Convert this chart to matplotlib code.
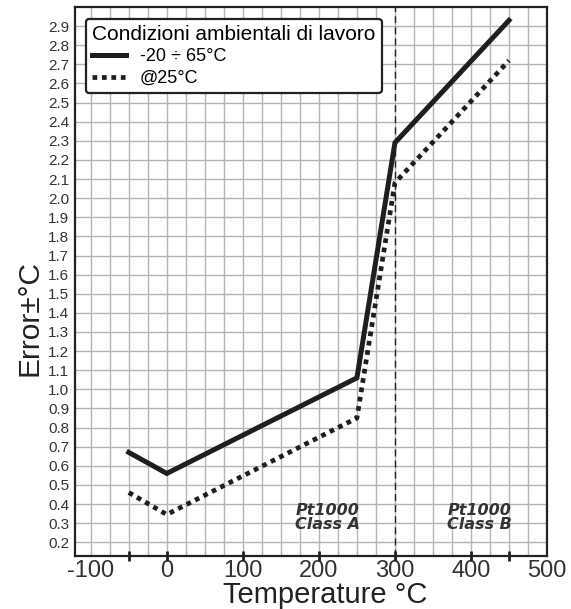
import numpy as np
import matplotlib
matplotlib.use("Agg")
import matplotlib.pyplot as plt
from matplotlib.lines import Line2D

# data
temp = [-50, 0, 250, 300, 450]
err_range = [0.67, 0.56, 1.06, 2.29, 2.93]   # -20 ÷ 65°C
err_25 = [0.46, 0.345, 0.85, 2.08, 2.72]     # @25°C

x_labels = [-100, 0, 100, 200, 300, 400, 500]
x_marks = [-50, 0, 100, 200, 300, 400, 450]
y_labels = np.round(np.arange(0.2, 2.91, 0.1), 1)

plt.rcParams['font.family'] = ['Liberation Sans', 'DejaVu Sans']

fig = plt.figure(figsize=(5.71, 6.09), dpi=100)
ax = fig.add_axes([0.131, 0.087, 0.827, 0.9015])

ax.set_xlim(-121, 500)
ax.set_ylim(0.128, 3.0)

# grid
for gx in np.arange(-100, 500, 25):
    ax.axvline(gx, color='#b4b4b4', lw=1.0, zorder=1)
for gy in np.arange(0.2, 3.0, 0.1):
    ax.axhline(gy, color='#b4b4b4', lw=1.0, zorder=1)

# class boundary
ax.axvline(300, color='#222222', lw=1.0, ls=(0, (5, 3)), zorder=2)

ax.plot(temp, err_range, color='#1e1e1e', lw=3.6, solid_joinstyle='miter', zorder=4)
ax.plot(temp, err_25, color='#1e1e1e', lw=3.4, ls=(0, (1, 1)), zorder=3)

for xt, lab in [(211, 'Pt1000\nClass A'), (411, 'Pt1000\nClass B')]:
    ax.text(xt, 0.33, lab, ha='center', va='center', style='italic',
            weight='bold', fontsize=11.5, color='#333333', linespacing=0.85,
            family=['DejaVu Sans'])

# ticks
ax.xaxis.remove_overlapping_locs = False
ax.set_xticks(x_labels)
ax.set_xticklabels([str(v) for v in x_labels], fontsize=17, color='#333333')
ax.tick_params(axis='x', which='major', length=0, pad=3)
ax.set_xticks(x_marks, minor=True)
ax.tick_params(axis='x', which='minor', direction='inout', length=7, width=2,
               color='#222222')
ax.set_yticks(y_labels)
ax.set_yticklabels([f'{v:.1f}' for v in y_labels], fontsize=11, color='#333333')
ax.tick_params(axis='y', length=0, pad=4)

for s in ax.spines.values():
    s.set_linewidth(1.6)
    s.set_color('#222222')
    s.set_zorder(5)

ax.set_xlabel('Temperature °C', fontsize=21, color='#222222')
ax.xaxis.set_label_coords(0.53, -0.046)
ax.set_ylabel('Error±°C', fontsize=21.5, color='#222222')
ax.yaxis.set_label_coords(-0.066, 0.434)

handles = [Line2D([], [], color='#1e1e1e', lw=3.6),
           Line2D([], [], color='#1e1e1e', lw=3.4, ls=(0, (1, 1)))]
leg = ax.legend(handles, ['-20 ÷ 65°C', '@25°C'], title='Condizioni ambientali di lavoro',
                loc='upper left', bbox_to_anchor=(0.023, 0.979), fontsize=13,
                title_fontsize=15, frameon=True, fancybox=True, framealpha=1,
                handlelength=1.9, handletextpad=0.75, labelspacing=0.25,
                borderpad=0.35, borderaxespad=0)
leg._legend_box.align = 'left'
leg.get_frame().set_edgecolor('#222222')
leg.get_frame().set_linewidth(1.6)
leg.set_zorder(6)

fig.savefig('out.png', dpi=100)
